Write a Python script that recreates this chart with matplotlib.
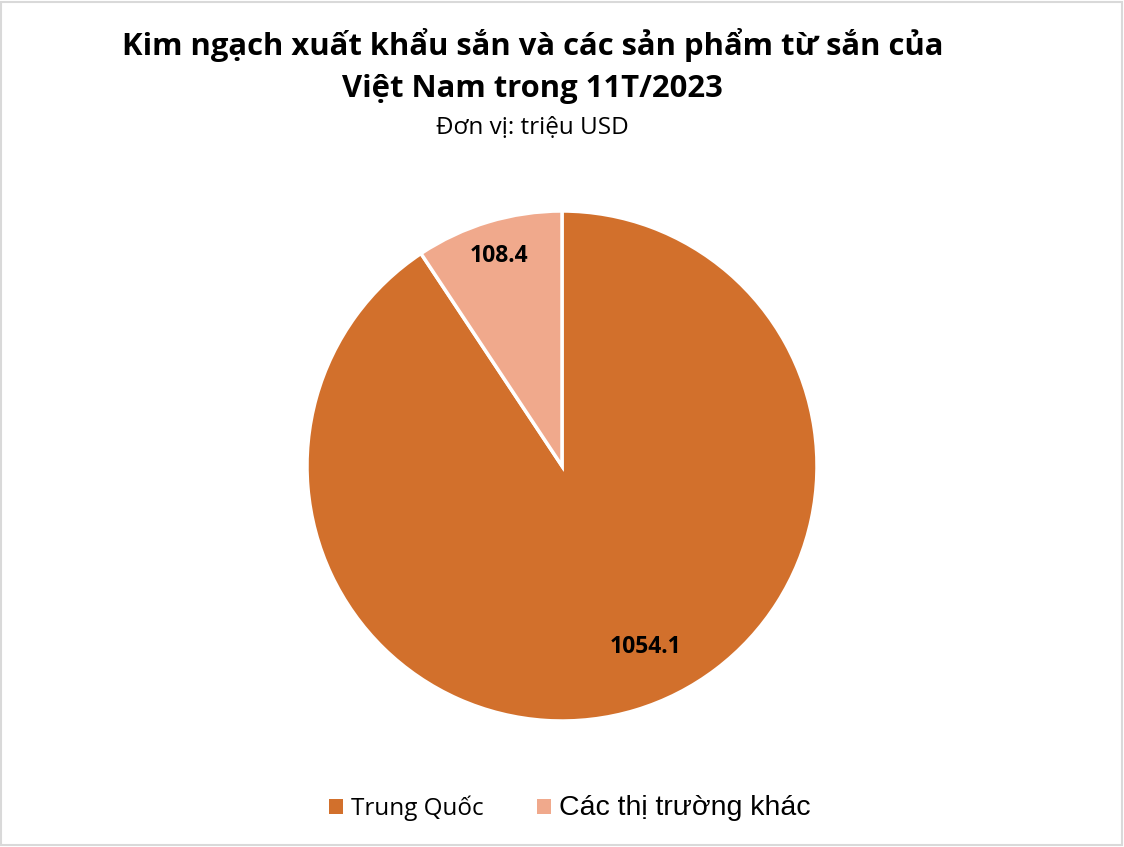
import matplotlib
matplotlib.use('Agg')
import matplotlib.pyplot as plt
import numpy as np
from matplotlib.patches import Rectangle

# dữ liệu
markets = ['Trung Quốc', 'Các thị trường khác']
values = [1054.1, 108.4]
colors = ['#D2702C', '#F0A98C']
title_lines = ['Kim ngạch xuất khẩu sắn và các sản phẩm từ sắn của', 'Việt Nam trong 11T/2023']
unit_text = 'Đơn vị: triệu USD'

plt.rcParams['font.family'] = ['Open Sans', 'DejaVu Sans']

fig = plt.figure(figsize=(11.24, 8.47), dpi=100)
fig.patch.set_facecolor('white')

# khung viền
fig.patches.append(Rectangle((0.001, 0.002), 0.997, 0.996, transform=fig.transFigure,
                             fill=False, edgecolor='#D9D9D9', linewidth=1.5))

r = 255
cx, cy = 562, 466
ax = fig.add_axes([(cx - r) / 1124, (847 - cy - r) / 847, 2 * r / 1124, 2 * r / 847])

wedges, _ = ax.pie(values, colors=colors, startangle=90, counterclock=False,
                   wedgeprops=dict(edgecolor='white', linewidth=2.5))
ax.set_aspect('equal')
ax.set_xlim(-1, 1)
ax.set_ylim(-1, 1)

# nhãn giá trị
label_r = [0.78, 0.86]
label_shift = [8.0, 0.0]
for w, v, lr, sh in zip(wedges, values, label_r, label_shift):
    ang = np.deg2rad((w.theta1 + w.theta2) / 2 + sh)
    ax.text(lr * np.cos(ang), lr * np.sin(ang), f'{v:.1f}', ha='center', va='center',
            fontsize=16.5, fontweight='bold', color='black')

fig.text(0.474, 0.947, title_lines[0], ha='center', va='center', fontsize=22.3,
         fontweight='bold')
fig.text(0.474, 0.895, title_lines[1], ha='center', va='center', fontsize=22.3,
         fontweight='bold')
fig.text(0.474, 0.849, unit_text, ha='center', va='center', fontsize=17.5)

leg = fig.legend(wedges, markets, loc='center', bbox_to_anchor=(0.507, 0.046), ncol=2,
                 frameon=False, fontsize=17.5, handlelength=0.55, handleheight=0.55,
                 handletextpad=0.35, columnspacing=2.2)
leg.get_texts()[1].set_fontsize(20.5)
leg.get_texts()[1].set_family(['Liberation Sans', 'DejaVu Sans'])
for h in leg.legend_handles:
    h.set_edgecolor('none')

fig.savefig('out.png', dpi=100, facecolor='white')
